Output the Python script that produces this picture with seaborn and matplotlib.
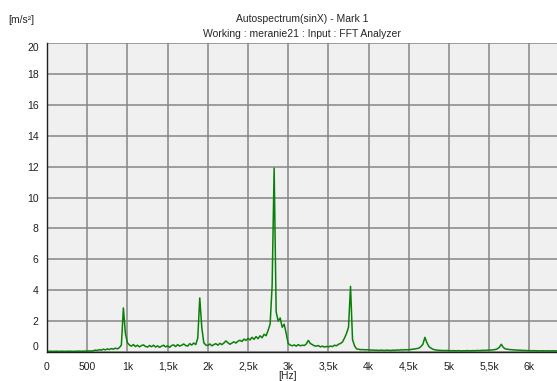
import matplotlib
matplotlib.use("Agg")
import matplotlib.pyplot as plt
import numpy as np
import pandas as pd
import seaborn as sns

# Autospectrum, one value per 25 Hz bin
freq_step_hz = 25
amplitude = [
    # 0 - 475 Hz
    0.05, 0.04, 0.05, 0.04, 0.05, 0.05, 0.04, 0.05, 0.05, 0.04,
    0.05, 0.05, 0.05, 0.04, 0.05, 0.05, 0.06, 0.05, 0.05, 0.06,
    # 500 - 975 Hz
    0.06, 0.07, 0.06, 0.08, 0.12, 0.10, 0.15, 0.12, 0.18, 0.14,
    0.20, 0.16, 0.22, 0.18, 0.25, 0.20, 0.28, 0.45, 2.85, 1.20,
    # 1000 - 1475 Hz
    0.60, 0.45, 0.38, 0.48, 0.35, 0.44, 0.33, 0.42, 0.46, 0.36,
    0.32, 0.42, 0.34, 0.44, 0.32, 0.40, 0.30, 0.38, 0.44, 0.33,
    # 1500 - 1975 Hz
    0.40, 0.30, 0.42, 0.46, 0.35, 0.48, 0.38, 0.44, 0.52, 0.42,
    0.38, 0.54, 0.45, 0.58, 0.48, 0.90, 3.50, 1.60, 0.60, 0.45,
    # 2000 - 2475 Hz
    0.42, 0.52, 0.40, 0.48, 0.54, 0.44, 0.56, 0.48, 0.58, 0.72,
    0.60, 0.50, 0.58, 0.66, 0.58, 0.70, 0.76, 0.68, 0.84, 0.75,
    # 2500 - 2975 Hz
    0.88, 0.78, 0.95, 0.82, 1.00, 0.86, 1.05, 0.92, 1.15, 1.05,
    1.40, 1.80, 4.30, 11.90, 2.60, 2.00, 2.20, 1.60, 1.80, 1.20,
    # 3000 - 3475 Hz
    0.55, 0.45, 0.40, 0.46, 0.38, 0.48, 0.40, 0.44, 0.42, 0.52,
    0.75, 0.55, 0.48, 0.40, 0.38, 0.42, 0.33, 0.38, 0.32, 0.36,
    # 3500 - 3975 Hz
    0.33, 0.38, 0.35, 0.44, 0.40, 0.50, 0.55, 0.65, 0.90, 1.20,
    1.60, 4.25, 0.80, 0.40, 0.20, 0.18, 0.15, 0.16, 0.14, 0.15,
    # 4000 - 4475 Hz
    0.14, 0.12, 0.13, 0.11, 0.12, 0.10, 0.12, 0.11, 0.10, 0.12,
    0.11, 0.10, 0.12, 0.11, 0.13, 0.12, 0.14, 0.13, 0.15, 0.14,
    # 4500 - 4975 Hz
    0.15, 0.16, 0.18, 0.20, 0.22, 0.25, 0.35, 0.50, 0.95, 0.60,
    0.35, 0.25, 0.18, 0.14, 0.12, 0.11, 0.10, 0.10, 0.09, 0.10,
    # 5000 - 5475 Hz
    0.09, 0.08, 0.09, 0.08, 0.08, 0.09, 0.07, 0.08, 0.08, 0.09,
    0.08, 0.08, 0.09, 0.08, 0.10, 0.09, 0.10, 0.11, 0.10, 0.12,
    # 5500 - 5975 Hz
    0.12, 0.13, 0.14, 0.16, 0.20, 0.30, 0.50, 0.30, 0.20, 0.18,
    0.16, 0.15, 0.14, 0.13, 0.12, 0.12, 0.11, 0.10, 0.10, 0.09,
    # 6000 - 6350 Hz
    0.09, 0.08, 0.09, 0.08, 0.08, 0.07, 0.08, 0.08, 0.07, 0.08,
    0.07, 0.07, 0.08, 0.07, 0.07,
]

x_ticks = [0, 500, 1000, 1500, 2000, 2500, 3000, 3500, 4000, 4500, 5000, 5500, 6000]
x_tick_labels = ["0", "500", "1k", "1,5k", "2k", "2,5k", "3k", "3,5k", "4k", "4,5k", "5k", "5,5k", "6k"]
y_ticks = [0, 2, 4, 6, 8, 10, 12, 14, 16, 18, 20]

title_line1 = "Autospectrum(sinX) - Mark 1"
title_line2 = "Working : meranie21 : Input : FFT Analyzer"

df = pd.DataFrame({
    "freq": np.arange(len(amplitude)) * freq_step_hz,
    "amp": amplitude,
})

sns.set_style("white")
plt.rcParams["font.family"] = ["Liberation Sans", "DejaVu Sans"]

fig = plt.figure(figsize=(5.57, 3.81), dpi=100)
ax = fig.add_axes([47 / 557, 1 - 352 / 381, 1 - 47 / 557, (352 - 43) / 381])
ax.set_facecolor("#f0f0f0")

sns.lineplot(data=df, x="freq", y="amp", ax=ax, color="#0a800a", linewidth=1.1)

ax.set_xlim(0, 6343)
ax.set_ylim(0, 20)
ax.set_xticks(x_ticks)
ax.set_xticklabels(x_tick_labels)
ax.set_yticks(y_ticks)
ax.set_yticklabels([str(v) for v in y_ticks])
ax.tick_params(axis="both", direction="out", length=4, width=0.8, color="#404040",
               labelsize=7.5, labelcolor="#202020", pad=2)
ax.tick_params(axis="x", pad=3)
ax.grid(True, color="#858585", linewidth=1.1)
ax.set_axisbelow(True)

# the end labels sit inside the plot range on the analyzer screen
ylabels = ax.get_yticklabels()
ylabels[0].set_va("bottom")
ylabels[-1].set_va("top")

for side in ["top", "right"]:
    ax.spines[side].set_visible(False)
for side in ["left", "bottom"]:
    ax.spines[side].set_color("#202020")
    ax.spines[side].set_linewidth(1.0)

ax.set_xlabel("")
ax.set_ylabel("")
fig.text(288 / 557, 1 - 376 / 381, "[Hz]", fontsize=7.5, va="center", ha="center")
fig.text(8 / 557, 1 - 20 / 381, "[m/s²]", fontsize=7.5, va="center", ha="left")
fig.text(302 / 557, 1 - 19 / 381, title_line1, fontsize=7.5, va="center", ha="center")
fig.text(302 / 557, 1 - 34 / 381, title_line2, fontsize=7.5, va="center", ha="center")

fig.savefig("out.png", dpi=100, facecolor="white")
